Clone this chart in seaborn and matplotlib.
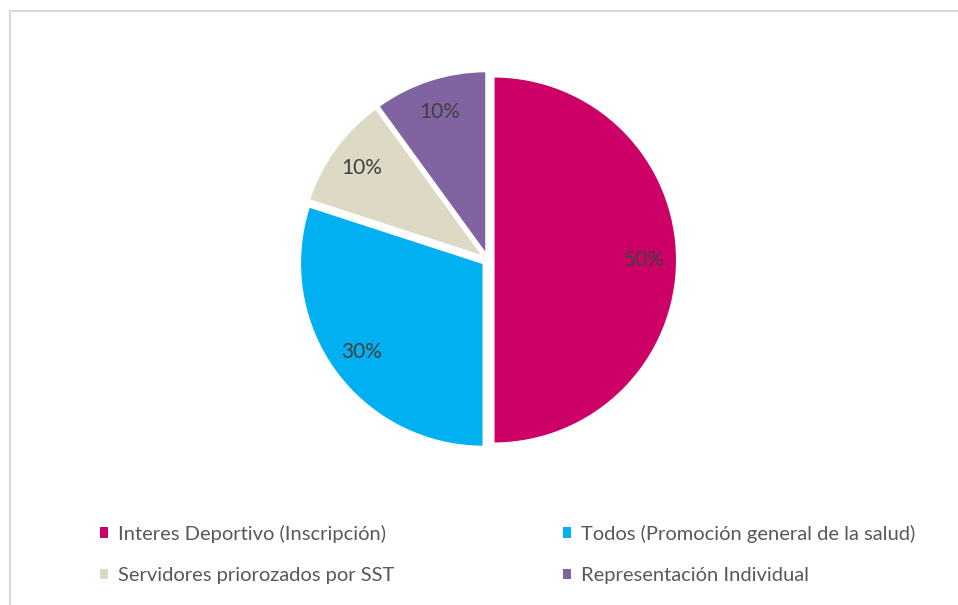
import matplotlib
matplotlib.use("Agg")
import matplotlib.pyplot as plt
import matplotlib.patches as mpatches
import seaborn as sns

# Data
categories = ["Interes Deportivo (Inscripción)",
              "Todos (Promoción general de la salud)",
              "Servidores priorozados por SST",
              "Representación Individual"]
shares = [50, 30, 10, 10]
colors = ["#CC0066", "#00B0F0", "#DDD9C4", "#8064A2"]

sns.set_style("white")
plt.rcParams['font.family'] = ['Lato', 'DejaVu Sans']

fig = plt.figure(figsize=(9.58, 6.05), dpi=100)

# pie axes, placed so the pie sits where it does in the reference
ax = fig.add_axes([0.2987, 0.2366, 0.4214, 0.6673])
wedges, texts, autotexts = ax.pie(
    shares, colors=colors, startangle=90, counterclock=False,
    explode=[0.03] * 4, autopct='%1.0f%%', pctdistance=0.82,
    wedgeprops=dict(edgecolor='white', linewidth=1.5),
    textprops=dict(color='#404040', fontsize=15))
ax.set_xlim(-1.1, 1.1)
ax.set_ylim(-1.1, 1.1)
ax.set_aspect('equal')
ax.axis('off')

# legend: two rows, two columns (matplotlib fills column-first)
order = [0, 2, 1, 3]
leg = fig.legend([wedges[i] for i in order], [categories[i] for i in order],
                 ncol=2, loc='center', bbox_to_anchor=(0.530, 0.0835),
                 frameon=False, fontsize=14.5, labelcolor='#595959',
                 handlelength=0.4, handleheight=0.4, handletextpad=0.5,
                 columnspacing=8.4, labelspacing=1.22)
for h in leg.legend_handles:
    h.set_edgecolor('none')

# light grey frame around the chart area
fig.patches.append(mpatches.Rectangle((9.5 / 958, -0.5), 2, 1 - 10.5 / 605 + 0.5,
                                      transform=fig.transFigure, fill=False,
                                      edgecolor='#D9D9D9', linewidth=1.5))

fig.savefig('out.png', dpi=100, facecolor='white')
